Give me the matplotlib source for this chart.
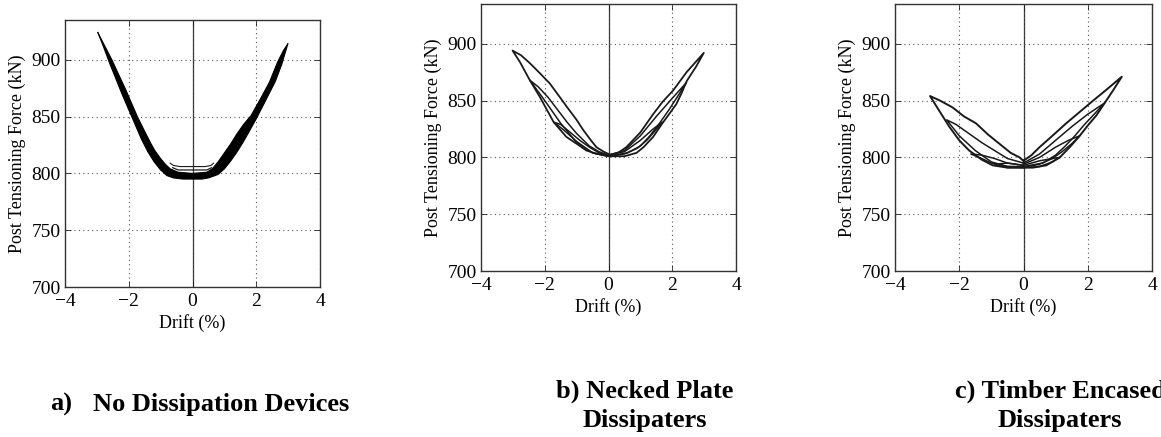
import matplotlib
matplotlib.use("Agg")
import matplotlib.pyplot as plt

# ---------------------------------------------
# Data (drift %, force kN)
# ---------------------------------------------

# a) no dissipation devices: dense band, outer and inner edge
a_outer_drift = [-2.97, -2.80, -2.60, -2.40, -2.20, -2.00, -1.80, -1.60, -1.40, -1.20, -1.00,
                 -0.80, -0.60, -0.30, 0.0, 0.30, 0.50, 0.80, 1.00, 1.20, 1.40, 1.60,
                 1.80, 2.00, 2.20, 2.40, 2.60, 2.80, 2.95, 2.99]
a_outer_force = [924, 912, 897, 883, 869, 856, 843, 830, 819, 810, 803,
                 798, 796, 795, 795, 795, 796, 799, 804, 811, 819, 828,
                 838, 848, 859, 870, 881, 896, 910, 914]
a_inner_drift = [-2.97, -2.75, -2.53, -2.30, -2.10, -1.90, -1.73, -1.50, -1.30, -1.18, -1.00,
                 -0.85, -0.70, -0.45, 0.0, 0.45, 0.62, 0.80, 1.00, 1.20, 1.40, 1.60,
                 1.84, 2.10, 2.41, 2.67, 2.85, 2.99]
a_inner_force = [924, 912, 900, 886, 874, 861, 850, 837, 826, 820, 813,
                 808, 804, 801, 800, 801, 804, 810, 818, 826, 835, 843,
                 851, 864, 880, 898, 908, 914]
a_top_drift = [-0.70, -0.60, -0.40, 0.0, 0.40, 0.58, 0.66]
a_top_force = [809, 807, 806, 806, 806, 807, 809]
a_mid_drift = [-0.62, -0.45, 0.0, 0.45, 0.60]
a_mid_force = [805, 803, 803, 803, 805]

# b) necked plate dissipaters: three loop sizes
b_big_drift = [0, 0.3, 0.56, 1.0, 1.4, 1.7, 2.03, 2.45, 2.99,
               2.75, 2.45, 2.3, 2.13, 1.9, 1.69, 1.4, 1.1, 0.88, 0.5, 0,
               -0.35, -0.69, -1.0, -1.32, -1.72, -2.15, -2.47, -2.78, -3.01,
               -2.75, -2.47, -2.15, -1.84, -1.5, -1.32, -1.0, -0.79, -0.55, -0.38, -0.15, 0]
b_big_force = [802, 804, 809, 822, 838, 849, 859, 875, 892,
               880, 867, 857, 847, 838, 830, 818, 809, 804, 801, 801,
               803, 806, 812, 818, 831, 853, 868, 884, 894,
               890, 883, 874, 865, 852, 845, 833, 824, 815, 809, 805, 803]
b_mid_drift = [0, 0.5, 1.0, 1.5, 2.0, 2.45,
               2.2, 1.9, 1.6, 1.3, 1.0, 0.6, 0,
               -0.5, -1.0, -1.5, -2.0, -2.47,
               -2.2, -1.9, -1.6, -1.3, -1.0, -0.6, -0.3, 0]
b_mid_force = [802, 806, 819, 836, 852, 866,
               855, 842, 830, 819, 810, 804, 801,
               804, 813, 830, 850, 868,
               862, 853, 842, 831, 821, 810, 805, 802]
b_small_drift = [0, 0.5, 1.0, 1.4, 1.69,
                 1.45, 1.2, 0.9, 0.5, 0,
                 -0.5, -1.0, -1.4, -1.72,
                 -1.5, -1.2, -0.9, -0.6, -0.3, 0]
b_small_force = [802, 805, 815, 825, 831,
                 823, 815, 808, 803, 801,
                 804, 814, 824, 831,
                 829, 822, 815, 809, 804, 802]

# c) timber encased dissipaters
c_big_drift = [0, 0.25, 0.5, 0.9, 1.33, 1.75, 2.17, 2.6, 3.06,
               2.79, 2.53, 2.27, 2.0, 1.75, 1.44, 1.13, 0.71, 0.3, 0,
               -0.5, -0.96, -1.3, -1.69, -2.0, -2.31, -2.6, -2.91,
               -2.6, -2.21, -1.85, -1.48, -1.1, -0.75, -0.4, -0.125, 0]
c_big_force = [797, 802, 809, 819, 830, 840, 850, 860, 871,
               859, 848, 837, 828, 819, 809, 800, 793, 791, 791,
               791, 793, 798, 806, 815, 827, 840, 854,
               850, 844, 836, 830, 820, 812, 804, 800, 797]
c_mid_drift = [0, 0.5, 1.0, 1.5, 2.0, 2.53,
               2.2, 1.9, 1.6, 1.3, 1.0, 0.6, 0,
               -0.5, -1.0, -1.5, -2.0, -2.39,
               -2.1, -1.7, -1.3, -0.9, -0.5, 0]
c_mid_force = [795, 803, 815, 827, 838, 848,
               838, 829, 819, 810, 802, 795, 792,
               792, 796, 806, 819, 833,
               829, 821, 813, 806, 799, 795]
c_small_drift = [0, 0.5, 1.0, 1.4, 1.75,
                 1.5, 1.2, 0.9, 0.5, 0,
                 -0.5, -1.0, -1.3, -1.64,
                 -1.3, -0.9, -0.5, 0]
c_small_force = [794, 800, 809, 815, 819,
                 812, 805, 799, 794, 791,
                 792, 795, 799, 803,
                 802, 799, 795, 793]
c_tiny_drift = [0, 0.5, 0.9, 1.13, 0.9, 0.5, 0, -0.5, -0.9, -0.5, 0]
c_tiny_force = [793, 797, 799, 800, 796, 792, 791, 791, 794, 795, 793]

x_ticks = [-4, -2, 0, 2, 4]
y_ticks = [700, 750, 800, 850, 900]

# ---------------------------------------------
# Figure
# ---------------------------------------------
plt.rcParams['font.family'] = ['Liberation Serif', 'DejaVu Serif']
plt.rcParams['axes.unicode_minus'] = True

fig = plt.figure(figsize=(11.61, 4.37), dpi=100)
W, H = 1161, 437

def make_axes(left, top, right, bottom):
    return fig.add_axes([left / W, (H - bottom) / H, (right - left) / W, (bottom - top) / H])

ax_a = make_axes(65, 20, 320, 287)
ax_b = make_axes(481, 4, 736, 271)
ax_c = make_axes(895, 4, 1152, 271)

line_col = '#1a1a1a'

for ax in (ax_a, ax_b, ax_c):
    ax.set_xlim(-4, 4)
    ax.set_ylim(700, 935)
    ax.set_xticks(x_ticks)
    ax.set_yticks(y_ticks)
    ax.grid(True, color='#555555', linestyle=(0, (1, 3)), linewidth=0.8)
    ax.axvline(0, color='#333333', linewidth=0.9, zorder=1)
    ax.tick_params(direction='in', length=4, width=0.6, labelsize=14,
                   top=True, right=True, colors='#222222', labelcolor='black')
    ax.tick_params(axis='x', pad=4)
    ax.tick_params(axis='y', pad=3)
    for s in ax.spines.values():
        s.set_color('#333333')
        s.set_linewidth(1.0)
    ax.set_xlabel('Drift (%)', fontsize=13, labelpad=3)
    ax.set_ylabel('Post Tensioning Force (kN)', fontsize=13, labelpad=4)

# panel a
band_x = a_outer_drift + a_inner_drift[::-1]
band_y = a_outer_force + a_inner_force[::-1]
ax_a.fill(band_x, band_y, color='black', linewidth=0, zorder=3)
ax_a.plot(a_outer_drift, a_outer_force, color='black', linewidth=0.8, zorder=3)
ax_a.plot(a_inner_drift, a_inner_force, color='black', linewidth=0.8, zorder=3)
ax_a.plot(a_mid_drift, a_mid_force, color=line_col, linewidth=0.9, zorder=3)
ax_a.plot(a_top_drift, a_top_force, color=line_col, linewidth=0.8, zorder=3)

# panel b
ax_b.plot(b_big_drift, b_big_force, color=line_col, linewidth=1.3, zorder=3)
ax_b.plot(b_mid_drift, b_mid_force, color=line_col, linewidth=1.1, zorder=3)
ax_b.plot(b_small_drift, b_small_force, color=line_col, linewidth=1.1, zorder=3)

# panel c
ax_c.plot(c_big_drift, c_big_force, color=line_col, linewidth=1.4, zorder=3)
ax_c.plot(c_mid_drift, c_mid_force, color=line_col, linewidth=1.1, zorder=3)
ax_c.plot(c_small_drift, c_small_force, color=line_col, linewidth=1.1, zorder=3)
ax_c.plot(c_tiny_drift, c_tiny_force, color=line_col, linewidth=1.1, zorder=3)

# captions
cap = dict(fontsize=19, fontweight='bold', va='center')
fig.text(50 / W, (H - 404) / H, 'a)', ha='left', **cap)
fig.text(93 / W, (H - 404) / H, 'No Dissipation Devices', ha='left', **cap)
fig.text(645 / W, (H - 406) / H, 'b) Necked Plate\nDissipaters', ha='center',
         multialignment='center', linespacing=1.35, **cap)
fig.text(1060 / W, (H - 406) / H, 'c) Timber Encased\nDissipaters', ha='center',
         multialignment='center', linespacing=1.35, **cap)

fig.savefig('out.png', dpi=100)
